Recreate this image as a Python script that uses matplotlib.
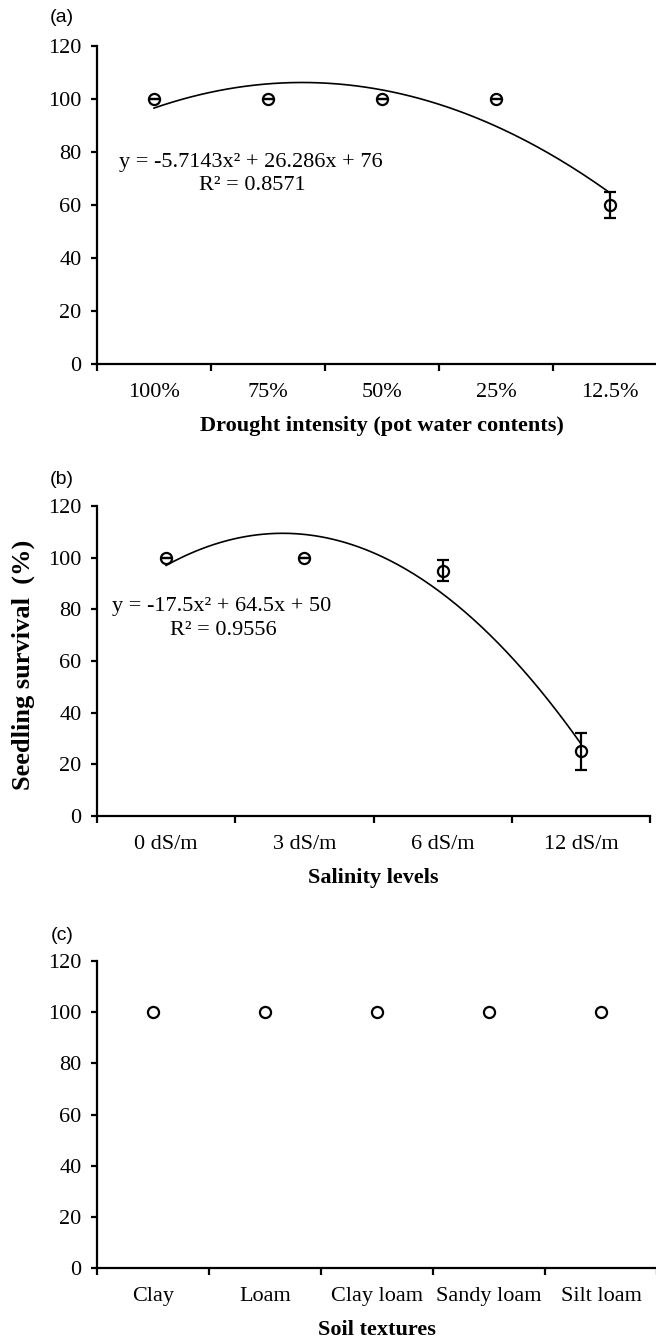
import numpy as np
import matplotlib
matplotlib.use('Agg')
import matplotlib.pyplot as plt
from matplotlib import rcParams

rcParams['font.family'] = 'serif'
rcParams['font.serif'] = ['Liberation Serif', 'DejaVu Serif']

# data
drought_labels = ['100%', '75%', '50%', '25%', '12.5%']
drought_surv = [100, 100, 100, 100, 60]
drought_err = [0, 0, 0, 0, 5]
drought_coef = [-5.7143, 26.286, 76]

salinity_labels = ['0 dS/m', '3 dS/m', '6 dS/m', '12 dS/m']
salinity_surv = [100, 100, 95, 25]
salinity_err = [0, 0, 4, 7]
salinity_coef = [-17.5, 64.5, 50]

soil_labels = ['Clay', 'Loam', 'Clay loam', 'Sandy loam', 'Silt loam']
soil_surv = [100, 100, 100, 100, 100]

W, H = 656, 1343
fig = plt.figure(figsize=(W / 100, H / 100), dpi=100)


def px_axes(x0, x1, y0, y1):
    # y0 = pixel row of value 0, y1 = pixel row of value 120
    return fig.add_axes([x0 / W, 1 - y0 / H, (x1 - x0) / W, (y0 - y1) / H])


def style(ax, labels, xlabel):
    n = len(labels)
    ax.set_xlim(0.5, n + 0.5)
    ax.set_ylim(0, 120)
    ax.set_yticks(range(0, 121, 20))
    ax.set_xticks(np.arange(0.5, n + 1, 1.0))
    ax.set_xticklabels([])
    ax.set_xticks(np.arange(1, n + 1), minor=True)
    ax.set_xticklabels(labels, minor=True)
    for s in ['top', 'right']:
        ax.spines[s].set_visible(False)
    for s in ['left', 'bottom']:
        ax.spines[s].set_linewidth(1.6)
        ax.spines[s].set_clip_on(False)
    ax.tick_params(axis='y', which='major', direction='out', length=4, width=1.6,
                   labelsize=16, pad=7)
    ax.tick_params(axis='x', which='major', direction='out', length=5, width=1.6)
    ax.tick_params(axis='x', which='minor', length=0, labelsize=16, pad=14)
    ax.set_xlabel(xlabel, fontsize=16, fontweight='bold', labelpad=10)
    ax.patch.set_alpha(0)


def pts(ax, y, err=None):
    x = np.arange(1, len(y) + 1)
    if err is None:
        ax.plot(x, y, 'o', ms=8, mfc='none', mec='black', mew=1.6, clip_on=False)
    else:
        ax.errorbar(x, y, yerr=err, fmt='o', ms=8, mfc='none', mec='black', mew=1.6,
                    ecolor='black', elinewidth=1.6, capsize=4.5, capthick=1.6,
                    clip_on=False)


def trend(ax, coef, n):
    xs = np.linspace(1, n, 200)
    ax.plot(xs, np.polyval(coef, xs), color='black', lw=1.2)


# (a) drought
ax1 = px_axes(97, 667, 364, 46)
trend(ax1, drought_coef, len(drought_surv))
pts(ax1, drought_surv, drought_err)
style(ax1, drought_labels, 'Drought intensity (pot water contents)')
fig.text(251 / W, 1 - 163 / H, 'y = -5.7143x² + 26.286x + 76', fontsize=16,
         ha='center', va='center')
fig.text(252 / W, 1 - 185 / H, 'R² = 0.8571', fontsize=16, ha='center', va='center')

# (b) salinity
ax2 = px_axes(97, 650, 816, 506)
trend(ax2, salinity_coef, len(salinity_surv))
pts(ax2, salinity_surv, salinity_err)
style(ax2, salinity_labels, 'Salinity levels')
fig.text(222 / W, 1 - 606 / H, 'y = -17.5x² + 64.5x + 50', fontsize=16,
         ha='center', va='center')
fig.text(223 / W, 1 - 630 / H, 'R² = 0.9556', fontsize=16, ha='center', va='center')
fig.text(23 / W, 1 - 665 / H, 'Seedling survival  (%)', fontsize=19, fontweight='bold',
         rotation=90, ha='center', va='center')

# (c) soil texture
ax3 = px_axes(97, 657, 1268, 961)
pts(ax3, soil_surv)
style(ax3, soil_labels, 'Soil textures')

for lab, y in [('(a)', 18), ('(b)', 480), ('(c)', 935)]:
    fig.text(62 / W, 1 - y / H, lab, fontsize=14, family='Liberation Sans',
             ha='center', va='center')

fig.savefig('out.png', dpi=100)
